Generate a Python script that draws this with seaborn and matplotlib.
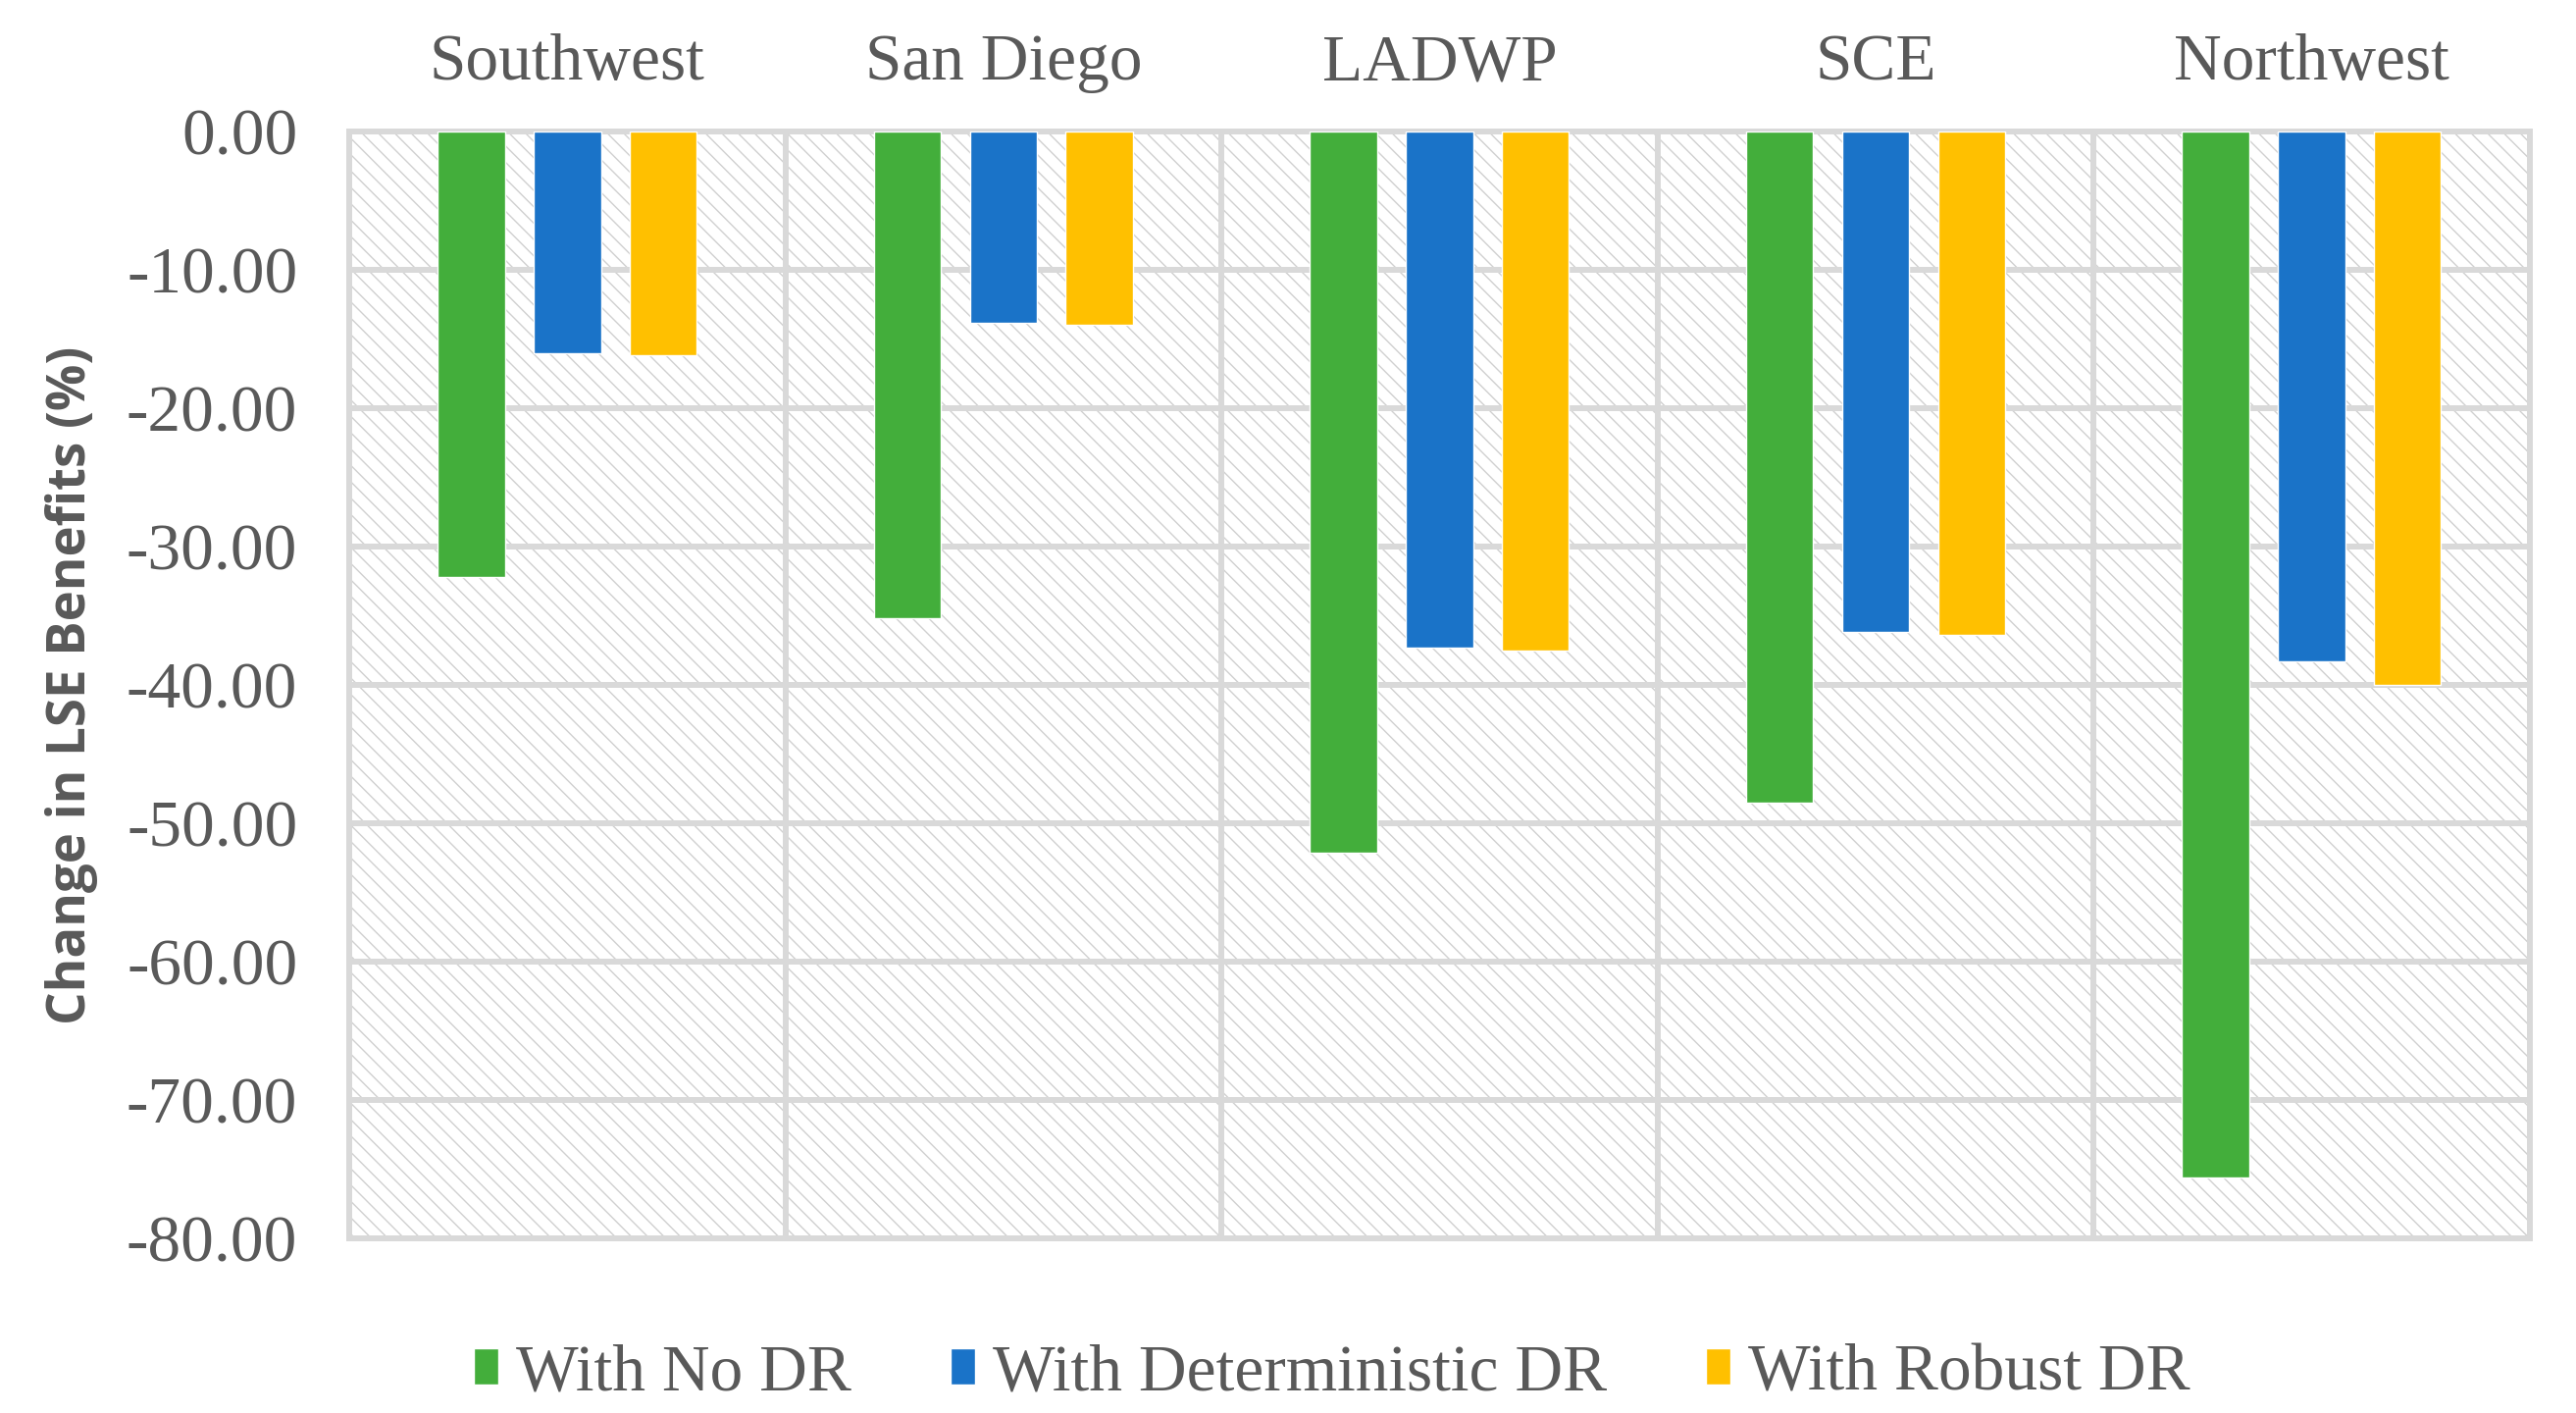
import seaborn as sns
import matplotlib.pyplot as plt
import matplotlib.patches as mpatches
import pandas as pd

# regions (top axis) and the three cases
regions = ["Southwest", "San Diego", "LADWP", "SCE", "Northwest"]
cases = ["With No DR", "With Deterministic DR", "With Robust DR"]

# change in LSE benefits (%)
no_dr = [-32.2, -35.2, -52.1, -48.5, -75.6]
det_dr = [-16.0, -13.8, -37.3, -36.2, -38.3]
rob_dr = [-16.2, -14.0, -37.5, -36.4, -40.0]

colors = ["#43AE3B", "#1A73C8", "#FFC000"]
grey = "#595959"
light = "#D9D9D9"

# long form table for seaborn
rows = []
for case, vals in zip(cases, [no_dr, det_dr, rob_dr]):
    for r, v in zip(regions, vals):
        rows.append({"region": r, "case": case, "change": v})
df = pd.DataFrame(rows)

sns.set_theme(style="white")
plt.rcParams["font.family"] = ["Liberation Serif", "DejaVu Serif"]

fig = plt.figure(figsize=(26.26, 14.4), dpi=100)
ax = fig.add_axes([0.1356, 0.1236, 0.8464, 0.7834])

# hatched background of the plot area
bg = mpatches.Rectangle((0, 0), 1, 1, transform=ax.transAxes, facecolor="white",
                        edgecolor="#D0D0D0", hatch="\\\\", linewidth=0, zorder=0)
ax.add_patch(bg)

sns.barplot(data=df, x="region", y="change", hue="case", order=regions,
            hue_order=cases, palette=colors, saturation=1, width=0.66, gap=0.3,
            errorbar=None, ax=ax, zorder=3)

ax.set_ylim(-80, 0)
ax.set_xlim(-0.5, len(regions) - 0.5)
ax.set_yticks(range(0, -81, -10))
ax.set_yticklabels([f"{v:.2f}" for v in range(0, -81, -10)])

# category names on top
ax.xaxis.tick_top()
ax.set_xlabel("")
ax.tick_params(axis="x", length=0, pad=28, labelsize=48.5, labelcolor=grey)
ax.tick_params(axis="y", length=0, pad=38, labelsize=48.5, labelcolor=grey)

# gridlines: horizontal at ticks, vertical between categories
ax.set_xticks([i + 0.5 for i in range(len(regions) - 1)], minor=True)
ax.tick_params(axis="x", which="minor", length=0)
ax.grid(axis="y", which="major", color=light, linewidth=4.3, zorder=1)
ax.grid(axis="x", which="minor", color=light, linewidth=4.3, zorder=1)
ax.grid(axis="x", which="major", visible=False)
ax.set_axisbelow(True)
for s in ax.spines.values():
    s.set_visible(True)
    s.set_color(light)
    s.set_linewidth(4.3)

ax.set_ylabel("Change in LSE Benefits (%)", fontsize=38, fontweight="bold",
              color=grey, family=["Open Sans", "DejaVu Sans"])
ax.yaxis.set_label_coords(-0.115, 0.5)

handles, labels = ax.get_legend_handles_labels()
ax.get_legend().remove()
fig.legend(handles, labels, loc="center", bbox_to_anchor=(0.517, 0.028),
           ncol=3, frameon=False, fontsize=48.5, labelcolor=grey,
           handlelength=0.37, handleheight=0.47, handletextpad=0.27,
           columnspacing=1.5)

fig.savefig("out.png", dpi=100)
